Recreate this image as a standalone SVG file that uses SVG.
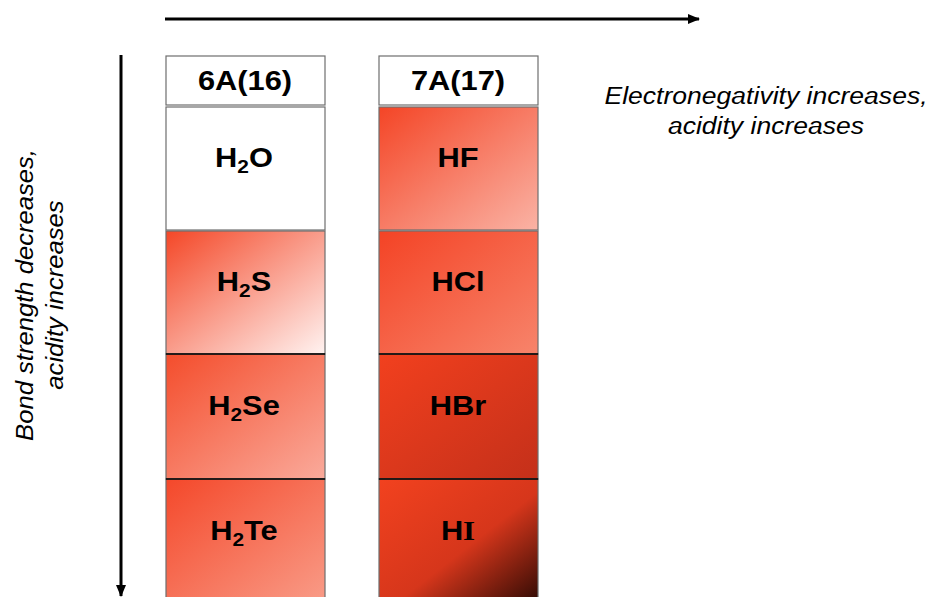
<svg xmlns="http://www.w3.org/2000/svg" width="938" height="597" viewBox="0 0 938 597">
<style>
.lbl{font-family:"Liberation Sans",Arial,sans-serif;font-weight:bold;font-size:28px;fill:#000;text-anchor:middle}
.sub{font-size:19px}
.note{font-family:"Liberation Sans",Arial,sans-serif;font-style:italic;font-size:23.5px;fill:#000;text-anchor:middle}
.cell{stroke:#6e6e6e;stroke-width:1.2}
.line{stroke:#000;stroke-width:3;fill:none}
</style>
<defs>
<marker id="ah" markerWidth="12" markerHeight="10" refX="11" refY="5" orient="auto" markerUnits="userSpaceOnUse">
<path d="M0,0 L12,5 L0,10 Z" fill="#000"/>
</marker>
<linearGradient id="gS" x1="0" y1="0" x2="1" y2="1"><stop offset="0" stop-color="#f44727"/><stop offset="1" stop-color="#fff3f1"/></linearGradient>
<linearGradient id="gSe" x1="0" y1="0" x2="1" y2="1"><stop offset="0" stop-color="#f44d2c"/><stop offset="1" stop-color="#faaa9b"/></linearGradient>
<linearGradient id="gTe" x1="0" y1="0" x2="1" y2="1"><stop offset="0" stop-color="#f4482a"/><stop offset="1" stop-color="#f99c88"/></linearGradient>
<linearGradient id="gF" x1="0" y1="0" x2="1" y2="1"><stop offset="0" stop-color="#f44526"/><stop offset="1" stop-color="#fab3a5"/></linearGradient>
<linearGradient id="gCl" x1="0" y1="0" x2="1" y2="1"><stop offset="0" stop-color="#f44325"/><stop offset="1" stop-color="#f7846b"/></linearGradient>
<linearGradient id="gBr" x1="0" y1="0" x2="1" y2="1"><stop offset="0" stop-color="#f2401e"/><stop offset="1" stop-color="#c4301a"/></linearGradient>
<linearGradient id="gI" x1="0" y1="0" x2="1" y2="1"><stop offset="0" stop-color="#f2421f"/><stop offset="0.55" stop-color="#d6361b"/><stop offset="1" stop-color="#2e0a04"/></linearGradient>
</defs>
<rect width="938" height="597" fill="#fff"/>

<g id="connectors">
<line class="line" x1="165" y1="19" x2="699" y2="19" marker-end="url(#ah)"/>
<line class="line" x1="121" y1="55" x2="121" y2="596" marker-end="url(#ah)"/>
</g>

<g id="head6A"><rect class="cell" x="166" y="56" width="159" height="49" fill="#fff"/><text class="lbl" transform="translate(245,90) scale(1.1,1)">6A(16)</text></g>
<g id="head7A"><rect class="cell" x="379" y="56" width="159" height="49" fill="#fff"/><text class="lbl" transform="translate(458,90) scale(1.1,1)">7A(17)</text></g>

<g id="H2O"><rect class="cell" x="166" y="107" width="159" height="123" fill="#fff"/><text class="lbl" transform="translate(244,167) scale(1.1,1)">H<tspan class="sub" dy="6">2</tspan><tspan dy="-6">O</tspan></text></g>
<g id="H2S"><rect class="cell" x="166" y="231" width="159" height="123" fill="url(#gS)"/><text class="lbl" transform="translate(244,291) scale(1.1,1)">H<tspan class="sub" dy="6">2</tspan><tspan dy="-6">S</tspan></text></g>
<g id="H2Se"><rect class="cell" x="166" y="354" width="159" height="125" fill="url(#gSe)"/><text class="lbl" transform="translate(244,415) scale(1.1,1)">H<tspan class="sub" dy="6">2</tspan><tspan dy="-6">Se</tspan></text></g>
<g id="H2Te"><rect class="cell" x="166" y="479" width="159" height="125" fill="url(#gTe)"/><text class="lbl" transform="translate(244,540) scale(1.1,1)">H<tspan class="sub" dy="6">2</tspan><tspan dy="-6">Te</tspan></text></g>

<g id="HF"><rect class="cell" x="379" y="107" width="159" height="123" fill="url(#gF)"/><text class="lbl" transform="translate(458,167) scale(1.1,1)">HF</text></g>
<g id="HCl"><rect class="cell" x="379" y="231" width="159" height="123" fill="url(#gCl)"/><text class="lbl" transform="translate(458,291) scale(1.1,1)">HCl</text></g>
<g id="HBr"><rect class="cell" x="379" y="354" width="159" height="125" fill="url(#gBr)"/><text class="lbl" transform="translate(458,415) scale(1.1,1)">HBr</text></g>
<g id="HI"><rect class="cell" x="379" y="479" width="159" height="125" fill="url(#gI)"/><text class="lbl" transform="translate(458,540) scale(1.1,1)">H<tspan font-family="Liberation Serif,serif">I</tspan></text></g>

<g id="sep">
<line x1="166" y1="354" x2="325" y2="354" stroke="#000" stroke-width="1.5"/>
<line x1="166" y1="479" x2="325" y2="479" stroke="#000" stroke-width="1.5"/>
<line x1="379" y1="354" x2="538" y2="354" stroke="#000" stroke-width="1.5"/>
<line x1="379" y1="479" x2="538" y2="479" stroke="#000" stroke-width="1.5"/>
</g>

<g id="note-right"><text class="note" transform="translate(766,104) scale(1.13,1)">Electronegativity increases,</text><text class="note" transform="translate(766,134) scale(1.13,1)">acidity increases</text></g>
<g id="note-left" transform="translate(0,295) rotate(-90) scale(1.09,1)"><text class="note" x="0" y="33" font-size="23">Bond strength decreases,</text><text class="note" x="0" y="63" font-size="23">acidity increases</text></g>
</svg>
